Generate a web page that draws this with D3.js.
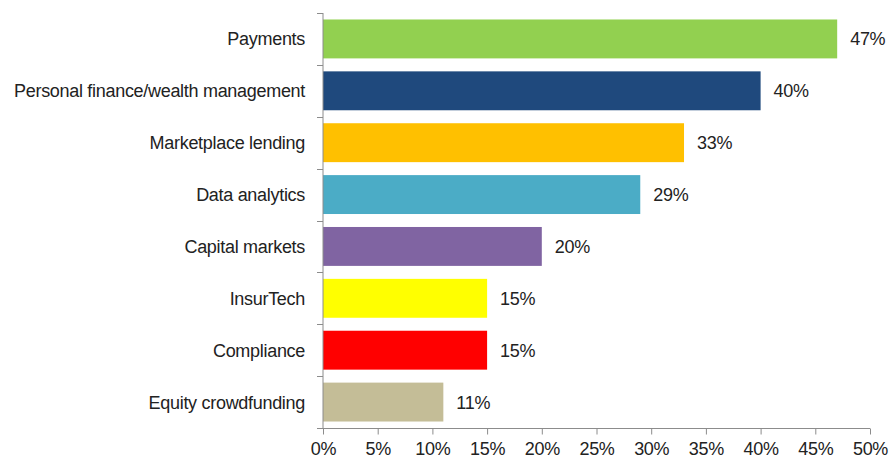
<!DOCTYPE html>
<html>
<head>
<meta charset="utf-8">
<script src="https://cdn.jsdelivr.net/npm/d3@7"></script>
<style>
  html, body { margin: 0; padding: 0; background: #fff; }
  svg text { font-family: "Liberation Sans", Arial, sans-serif; fill: #222; letter-spacing: -0.3px; }
</style>
</head>
<body>
<svg id="chart" width="890" height="465"></svg>
<script>
const categories = [
  "Payments",
  "Personal finance/wealth management",
  "Marketplace lending",
  "Data analytics",
  "Capital markets",
  "InsurTech",
  "Compliance",
  "Equity crowdfunding"
];
const values = [47, 40, 33, 29, 20, 15, 15, 11];
const barColors = ["#92D050", "#1F497D", "#FFC000", "#4BACC6", "#8064A2", "#FFFF00", "#FF0000", "#C4BD97"];
const xTicks = [0, 5, 10, 15, 20, 25, 30, 35, 40, 45, 50];

const svg = d3.select("#chart");
const margin = { left: 323, right: 20, top: 13, bottom: 37 };
const width = 890, height = 465;
const fontSize = 18;

const x = d3.scaleLinear().domain([0, 50]).range([margin.left, 870]);
const y = d3.scaleBand().domain(categories).range([margin.top, height - margin.bottom])
  .paddingInner(0.25).paddingOuter(0.125);

const data = categories.map((c, i) => ({ c, v: values[i], color: barColors[i] }));

// bars
svg.append("g").selectAll("rect").data(data).join("rect")
  .attr("x", x(0))
  .attr("y", d => y(d.c))
  .attr("width", d => x(d.v) - x(0))
  .attr("height", y.bandwidth())
  .attr("fill", d => d.color);

// value labels
svg.append("g").selectAll("text").data(data).join("text")
  .attr("x", d => x(d.v) + 13)
  .attr("y", d => y(d.c) + y.bandwidth() / 2)
  .attr("dy", "0.36em")
  .attr("font-size", fontSize)
  .text(d => d.v + "%");

// category labels
svg.append("g").selectAll("text").data(data).join("text")
  .attr("x", 305)
  .attr("y", d => y(d.c) + y.bandwidth() / 2)
  .attr("dy", "0.36em")
  .attr("text-anchor", "end")
  .attr("font-size", fontSize)
  .text(d => d.c);

const axisColor = "#8c8c8c";
const y0 = y.range()[0], y1 = y.range()[1];

// vertical axis with ticks at category boundaries
svg.append("line").attr("x1", x(0)).attr("x2", x(0)).attr("y1", y0).attr("y2", y1)
  .attr("stroke", axisColor);
const step = y.step();
d3.range(categories.length + 1).forEach(i => {
  const yy = Math.round(y0 + i * step) + 0.5;
  svg.append("line").attr("x1", x(0) - 6).attr("x2", x(0)).attr("y1", yy).attr("y2", yy)
    .attr("stroke", axisColor);
});

// horizontal axis
const xAxis = d3.axisBottom(x).tickValues(xTicks).tickFormat(d => d + "%").tickSize(6).tickPadding(8);
const gx = svg.append("g").attr("transform", `translate(0,${Math.round(y1) + 0.5})`).call(xAxis);
gx.select(".domain").attr("stroke", axisColor).attr("d", `M${x(0) - 6},0H${x(50)}`);
gx.selectAll(".tick line").attr("stroke", axisColor);
gx.selectAll(".tick text").attr("font-size", fontSize).attr("fill", "#222")
  .attr("font-family", "Liberation Sans, Arial, sans-serif");
</script>
</body>
</html>
